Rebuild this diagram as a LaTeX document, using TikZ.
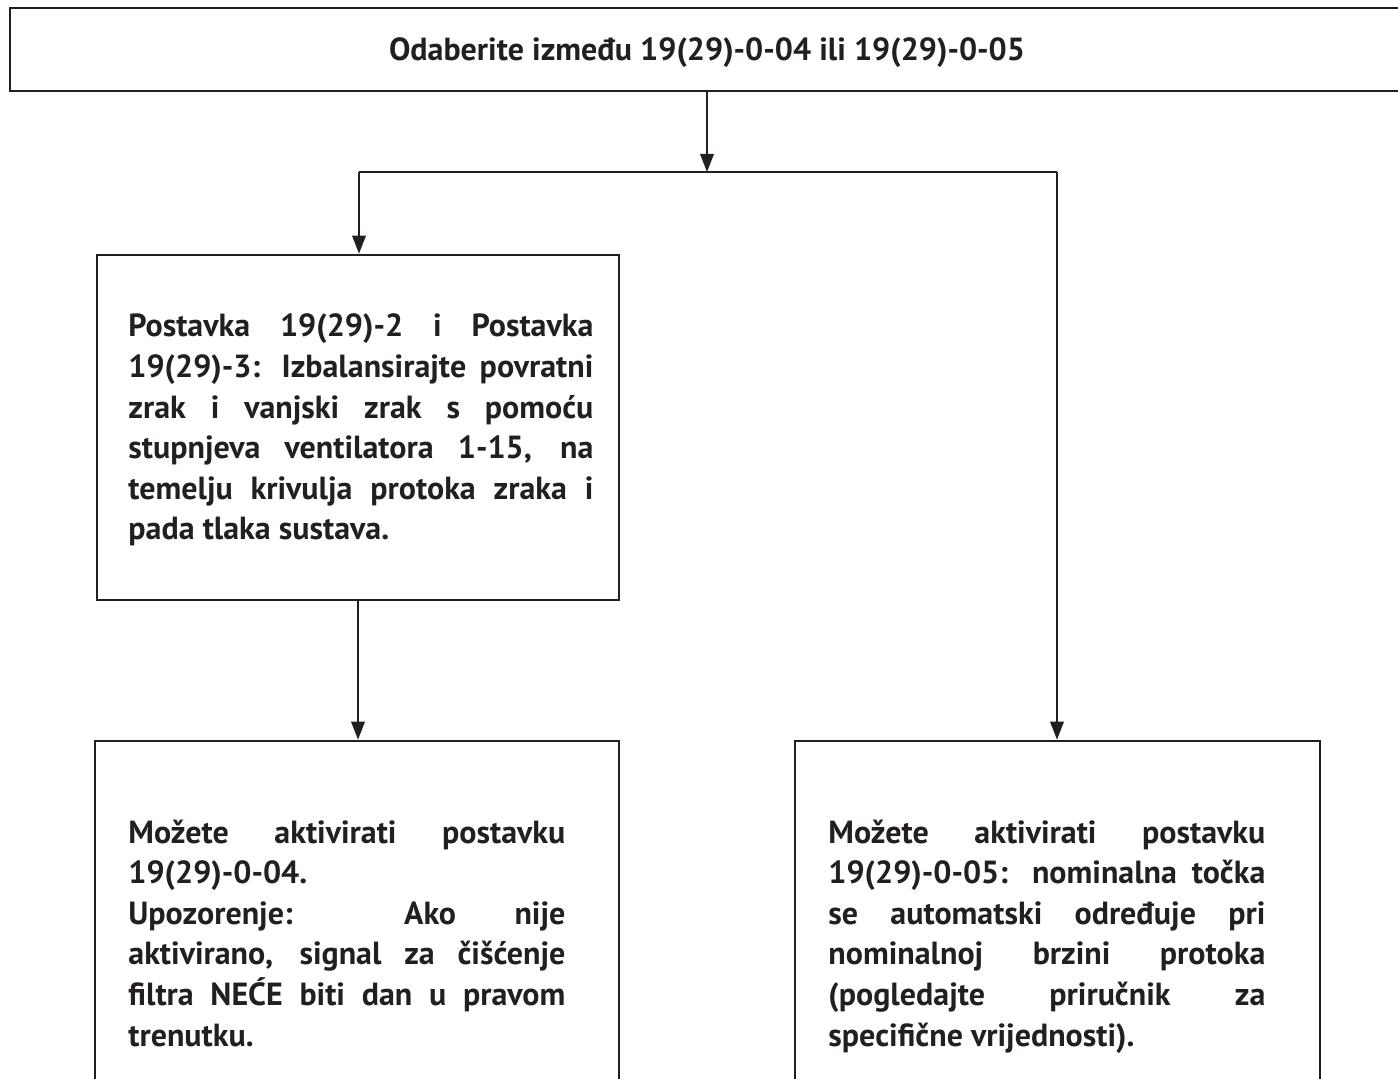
\documentclass[tikz,border=0pt]{standalone}
\usepackage{fontspec}
\setmainfont{PT Sans}
\usetikzlibrary{arrows.meta}
\definecolor{ink}{HTML}{231F20}
% one justified line of a text block, spread to the given width
\newcommand\jline[2]{\makebox[#1][s]{#2}}
\begin{document}
\begin{tikzpicture}[x=0.5pt,y=-0.5pt,
  box/.style={draw=ink,line width=1.3pt,inner sep=0pt,rectangle},
  txt/.style={text=ink,inner sep=0pt,anchor=base west,align=left,
    font=\bfseries\fontsize{16}{20.3}\selectfont},
  arr/.style={draw=ink,line width=1.1pt,-{Triangle[length=9pt,width=6.7pt]}},
  link/.style={draw=ink,line width=1.1pt}]
\useasboundingbox (0,0) rectangle (1398,1079);
\clip (0,0) rectangle (1398,1079);

% boxes
\node[box,minimum width=697pt,minimum height=41.5pt] (top) at (707,49.5) {};
\node[box,minimum width=261pt,minimum height=172.5pt] (mid) at (358,427.5) {};
\node[box,minimum width=262pt,minimum height=184.5pt] (bl) at (357,925.5) {};
\node[box,minimum width=262.5pt,minimum height=184.5pt] (br) at (1057.5,925.5) {};

% texts (each block is placed by the baseline of its last line)
\node[txt,anchor=base] (title) at (707,61) {Odaberite između 19(29)-0-04 ili 19(29)-0-05};

\node[txt] (midtext) at (128,540) {%
\jline{232.5pt}{Postavka 19(29)-2 i Postavka}\\
\jline{232.5pt}{19(29)-3: Izbalansirajte povratni}\\
\jline{232.5pt}{zrak i vanjski zrak s pomoću}\\
\jline{232.5pt}{stupnjeva ventilatora 1-15, na}\\
\jline{232.5pt}{temelju krivulja protoka zraka i}\\
pada tlaka sustava.};

\node[txt] (bltext) at (128,1046) {%
\jline{218.5pt}{Možete aktivirati postavku}\\
19(29)-0-04.\\
\jline{218.5pt}{Upozorenje: Ako nije}\\
\jline{218.5pt}{aktivirano, signal za čišćenje}\\
\jline{218.5pt}{filtra NEĆE biti dan u pravom}\\
trenutku.};

\node[txt] (brtext) at (828,1046) {%
\jline{218.5pt}{Možete aktivirati postavku}\\
\jline{218.5pt}{19(29)-0-05: nominalna točka}\\
\jline{218.5pt}{se automatski određuje pri}\\
\jline{218.5pt}{nominalnoj brzini protoka}\\
\jline{218.5pt}{(pogledajte priručnik za}\\
specifične vrijednosti).};

% connectors
\coordinate (split) at (707,172);
\coordinate (splitl) at (359,172);
\coordinate (splitr) at (1057,172);
\draw[arr] (top.south) -- (split);
\draw[link] (splitl) -- (splitr);
\draw[arr] (splitl) -- (splitl |- mid.north);
\draw[arr] (splitr) -- (splitr |- br.north);
\draw[arr] (mid.south) -- (mid.south |- bl.north);
\end{tikzpicture}
\end{document}
